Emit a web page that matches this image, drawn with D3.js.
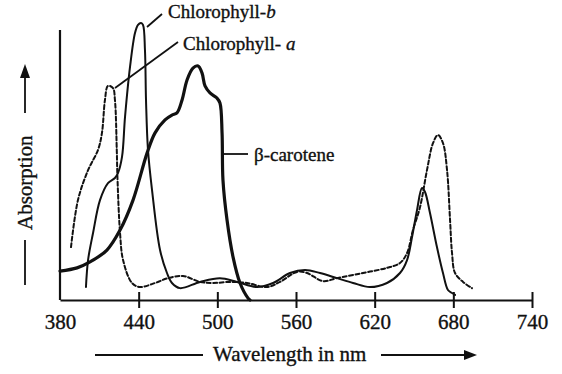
<!DOCTYPE html>
<html>
<head>
<meta charset="utf-8">
<script src="https://cdn.jsdelivr.net/npm/d3@7"></script>
<style>
  body { margin: 0; background: #fff; }
  svg { display: block; font-family: "Liberation Serif", "Times New Roman", serif; }
  svg text { stroke: #111; stroke-width: 0.35px; }
  .line { fill: none; stroke: #111; stroke-linejoin: round; stroke-linecap: round; }
</style>
</head>
<body>
<script>
// wavelength (nm) and absorption (relative units)
var chlaWave = [388.4, 393.7, 401.4, 409.0, 412.0, 414.3, 416.6, 420.4, 421.9, 423.3, 423.8, 425.8, 428.1, 434.9, 441.0,
  452.5, 462.4, 473.8, 486.8, 496.7, 509.7, 522.6, 537.9, 547.8, 560.8, 568.4, 580.6, 591.3, 611.1, 629.4, 639.3,
  644.7, 649.2, 654.6, 659.9, 664.5, 668.3, 672.1, 675.2, 677.5, 679.0, 681.3, 687.4, 694.2];
var chlaAbs = [19.6, 37.0, 48.1, 55.6, 61.9, 74.1, 79.3, 78.5, 74.1, 55.6, 45.6, 24.8, 14.8, 6.3, 4.8,
  6.3, 8.1, 8.9, 6.7, 6.3, 6.7, 6.3, 4.8, 6.7, 10.4, 10.0, 7.0, 8.1, 10.0, 11.9, 13.7,
  17.4, 25.9, 34.4, 48.1, 58.1, 61.1, 58.1, 48.1, 29.6, 17.4, 10.0, 6.7, 4.4];

var chlbWave = [399.8, 401.4, 405.2, 410.5, 416.6, 421.9, 424.2, 427.3, 429.6, 433.4, 437.2, 439.5, 441.8, 443.3, 444.8,
  445.6, 447.1, 450.2, 456.3, 461.6, 465.4, 471.5, 486.8, 502.0, 515.0, 530.3, 542.5, 555.4, 566.9, 578.3, 591.3,
  603.5, 616.4, 629.4, 639.3, 644.7, 648.5, 652.3, 656.1, 658.4, 662.2, 667.5, 672.1, 675.9, 679.0, 681.3];
var chlbAbs = [4.8, 14.8, 24.8, 37.0, 43.3, 45.2, 47.0, 53.0, 67.8, 86.3, 98.9, 101.9, 102.6, 101.9, 92.6,
  74.1, 55.6, 40.7, 18.5, 10.0, 6.3, 4.4, 6.7, 8.1, 6.7, 4.8, 6.3, 10.0, 11.1, 10.0, 8.1,
  6.3, 4.8, 6.3, 10.0, 14.8, 23.3, 33.3, 41.5, 40.0, 32.2, 19.6, 10.0, 3.7, 2.6, 1.9];

var caroWave = [380.0, 393.0, 402.9, 415.8, 425.8, 435.7, 446.4, 452.5, 460.1, 465.4, 469.2, 473.1, 476.9, 481.4, 485.3,
  488.3, 490.6, 494.4, 499.7, 502.0, 503.6, 504.3, 507.4, 512.0, 517.3, 523.4, 524.9];
var caroAbs = [10.7, 11.9, 14.1, 18.5, 25.9, 37.0, 54.4, 61.9, 66.7, 68.5, 69.3, 74.1, 81.5, 85.9, 86.7,
  84.1, 79.3, 76.7, 74.8, 73.0, 61.9, 44.4, 29.6, 15.9, 6.3, 0.7, 0];

var tickLabels = [380, 440, 500, 560, 620, 680, 740];

var width = 562, height = 374;

var svg = d3.select("body").append("svg")
  .attr("width", width)
  .attr("height", height);

var x = d3.scaleLinear().domain([380, 740]).range([60, 532]);
var y = d3.scaleLinear().domain([0, 100]).range([300, 30]);

function pairs(xs, ys) { return xs.map(function (d, i) { return [d, ys[i]]; }); }

var line = d3.line()
  .x(function (d) { return x(d[0]); })
  .y(function (d) { return y(d[1]); })
  .curve(d3.curveCatmullRom.alpha(0.5));

// x axis, ticks cross the line
var xAxis = svg.append("g")
  .attr("transform", "translate(0,300)")
  .call(d3.axisBottom(x).tickValues(tickLabels).tickSize(8).tickSizeOuter(0).tickFormat(d3.format("d")));
xAxis.select(".domain").attr("stroke", "#111").attr("stroke-width", 2.2);
xAxis.selectAll(".tick line").attr("y1", -8).attr("stroke", "#111").attr("stroke-width", 2)
  .filter(function (d) { return d === 380; }).remove();
xAxis.selectAll(".tick text")
  .attr("y", 29).attr("dy", 0)
  .attr("fill", "#111")
  .style("font-family", "Liberation Serif, serif")
  .style("font-size", "21px");

// y axis line (no ticks)
svg.append("line")
  .attr("x1", x(380)).attr("x2", x(380))
  .attr("y1", 30).attr("y2", 300)
  .attr("stroke", "#111").attr("stroke-width", 2.2);

// curves
svg.append("path")
  .datum(pairs(chlaWave, chlaAbs))
  .attr("class", "line")
  .attr("stroke-width", 2)
  .attr("stroke-dasharray", "4,2.5")
  .attr("d", line);

svg.append("path")
  .datum(pairs(chlbWave, chlbAbs))
  .attr("class", "line")
  .attr("stroke-width", 2)
  .attr("d", line);

svg.append("path")
  .datum(pairs(caroWave, caroAbs))
  .attr("class", "line")
  .attr("stroke-width", 3.2)
  .attr("d", line);

// labels with leader lines
function leader(x1, y1, x2, y2) {
  svg.append("line").attr("x1", x1).attr("y1", y1).attr("x2", x2).attr("y2", y2)
    .attr("stroke", "#111").attr("stroke-width", 1.8);
}
leader(147, 27, 162, 14);
leader(115, 88, 178, 42);
leader(223, 154, 248, 154);

var t1 = svg.append("text").attr("x", 168).attr("y", 18).attr("font-size", 19).attr("fill", "#111");
t1.append("tspan").text("Chlorophyll-");
t1.append("tspan").attr("font-style", "italic").text("b");

var t2 = svg.append("text").attr("x", 183).attr("y", 50).attr("font-size", 19).attr("fill", "#111");
t2.append("tspan").text("Chlorophyll- ");
t2.append("tspan").attr("font-style", "italic").text("a");

svg.append("text").attr("x", 254).attr("y", 161).attr("font-size", 19).attr("fill", "#111")
  .text("\u03B2-carotene");

// axis titles with arrows
svg.append("text")
  .attr("x", 213).attr("y", 361)
  .attr("font-size", 21).attr("fill", "#111")
  .text("Wavelength in nm");
svg.append("line").attr("x1", 95).attr("x2", 203).attr("y1", 355).attr("y2", 355)
  .attr("stroke", "#111").attr("stroke-width", 1.8);
svg.append("line").attr("x1", 381).attr("x2", 466).attr("y1", 355).attr("y2", 355)
  .attr("stroke", "#111").attr("stroke-width", 1.8);
svg.append("path").attr("d", "M477,355 L464,350 L464,360 Z").attr("fill", "#111");

svg.append("text")
  .attr("transform", "translate(32,230) rotate(-90)")
  .attr("font-size", 21).attr("fill", "#111")
  .text("Absorption");
svg.append("line").attr("x1", 25).attr("x2", 25).attr("y1", 240).attr("y2", 285)
  .attr("stroke", "#111").attr("stroke-width", 1.8);
svg.append("line").attr("x1", 25).attr("x2", 25).attr("y1", 113).attr("y2", 76)
  .attr("stroke", "#111").attr("stroke-width", 1.8);
svg.append("path").attr("d", "M25,64 L20,78 L30,78 Z").attr("fill", "#111");
</script>
</body>
</html>
